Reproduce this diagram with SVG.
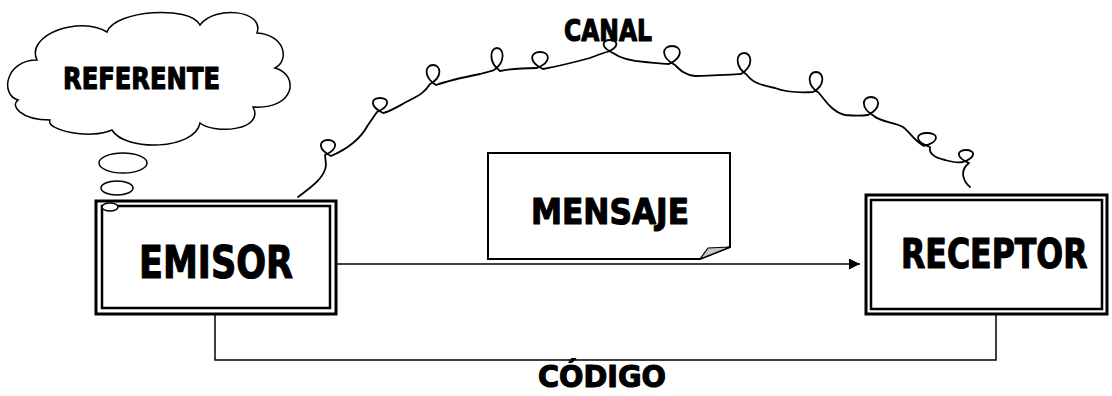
<svg xmlns="http://www.w3.org/2000/svg" width="1112" height="396" viewBox="0 0 1112 396">
<style>
.lbl{font-family:"DejaVu Sans","Liberation Sans",sans-serif;font-weight:bold;fill:#000;stroke:#000;stroke-width:1.2;stroke-linejoin:round}
.ln{fill:none;stroke:#000;stroke-width:1.5}
.sq{fill:none;stroke:#000;stroke-width:1.8;stroke-linejoin:round;stroke-linecap:round}
.box{fill:#fff;stroke:#000;stroke-width:3}
.boxi{fill:none;stroke:#000;stroke-width:2.5}
</style>
<defs>
<marker id="ah" viewBox="0 0 10 10" refX="10" refY="5" markerWidth="11" markerHeight="11" markerUnits="userSpaceOnUse" orient="auto">
<path d="M0,0 L10,5 L0,10 Z" fill="#000"/>
</marker>
</defs>
<rect width="1112" height="396" fill="#fff"/>
<g id="connectors">
<path class="ln" d="M337,264 L860,264" marker-end="url(#ah)"/>
<path class="ln" d="M215,315 L215,360 L996,360 L996,315"/>
<path class="sq" d="M298,197 C310,188 325,178 326,165 L325,155 C339,149 337,140 328,140 C319,140 317,149 331,156 C345,150 360,140 368,125 L377,112 C391,106 389,98 380,98 C371,98 369,106 383,113 C390,112 400,105 410,100 C420,95 425,92 430,84 C443,77 441,65 433,65 C425,65 423,77 436,85 C450,80 470,76 480,74 C488,72 492,71 494,70 C506,62 504,48 497,48 C490,48 488,62 500,71 C515,68 525,68 537,68 C552,62 550,52 540,52 C530,52 528,62 543,69 C560,66 575,62 590,58 C598,55 603,53 607,52 C620,47 618,40 610,40 C602,40 600,47 613,53 C620,58 630,61 645,62 C655,63 663,64 669,64 C684,57 682,46 672,46 C662,46 660,57 675,65 C680,70 685,75 695,76 C710,76 725,75 741,74 C754,66 752,53 744,53 C736,53 734,66 747,75 C752,82 760,85 775,88 C785,92 795,93 813,92 C826,85 824,72 816,72 C808,72 806,85 819,93 C825,100 832,112 845,115 C855,116 862,116 868,115 C882,108 880,97 871,97 C862,97 860,108 874,116 C880,122 895,122 903,127 C910,132 913,140 924,146 C941,141 938,133 927,133 C916,133 913,141 930,147 C929,152 932,157 945,160 C952,162 958,163 963,162 C977,157 975,150 966,150 C957,150 955,157 969,163 C960,170 962,180 970,187"/>
</g>
<g id="referente">
<path class="ln" d="M37,60 C25,35 80,15 107,32 C115,10 190,5 200,25 C215,5 265,10 257,33 C285,35 290,60 275,68 C300,75 295,110 253,107 C265,130 215,135 200,123 C195,150 125,152 112,130 C90,140 45,130 50,120 C20,120 10,105 18,100 C0,95 5,60 37,60 Z" style="fill:#fff"/>
<text class="lbl" x="63" y="89" font-size="30" textLength="157" lengthAdjust="spacingAndGlyphs">REFERENTE</text>
<ellipse cx="123" cy="163" rx="24" ry="10" class="ln" style="fill:#fff"/>
<ellipse cx="117" cy="188" rx="16" ry="7" class="ln" style="fill:#fff"/>
</g>
<g id="emisor">
<rect class="box" x="96" y="201" width="240" height="113"/>
<rect class="boxi" x="102" y="206" width="228" height="102"/>
<ellipse cx="110" cy="207" rx="8" ry="4" class="ln" style="fill:#fff"/>
<text class="lbl" x="139" y="278" font-size="44" textLength="154" lengthAdjust="spacingAndGlyphs">EMISOR</text>
</g>
<g id="mensaje">
<path d="M488,153 L730,153 L730,247 L700,259 L488,259 Z" fill="#fff" stroke="#000" stroke-width="2"/>
<path d="M700,259 L708,248 L730,247 Z" fill="#c8c8c8" stroke="#000" stroke-width="1.2"/>
<text class="lbl" x="531" y="224" font-size="36" textLength="158" lengthAdjust="spacingAndGlyphs">MENSAJE</text>
</g>
<g id="receptor">
<rect class="box" x="866" y="195" width="241" height="119"/>
<rect class="boxi" x="871" y="200" width="231" height="109"/>
<text class="lbl" transform="translate(901,268) scale(0.79,1)" x="0" y="0" font-size="40">RECEPTOR</text>
</g>
<g id="canal">
<text class="lbl" x="564" y="41" font-size="30" textLength="88" lengthAdjust="spacingAndGlyphs">CANAL</text>
</g>
<g id="codigo">
<text class="lbl" x="538" y="387" font-size="30" textLength="128" lengthAdjust="spacingAndGlyphs">CÓDIGO</text>
</g>
</svg>
